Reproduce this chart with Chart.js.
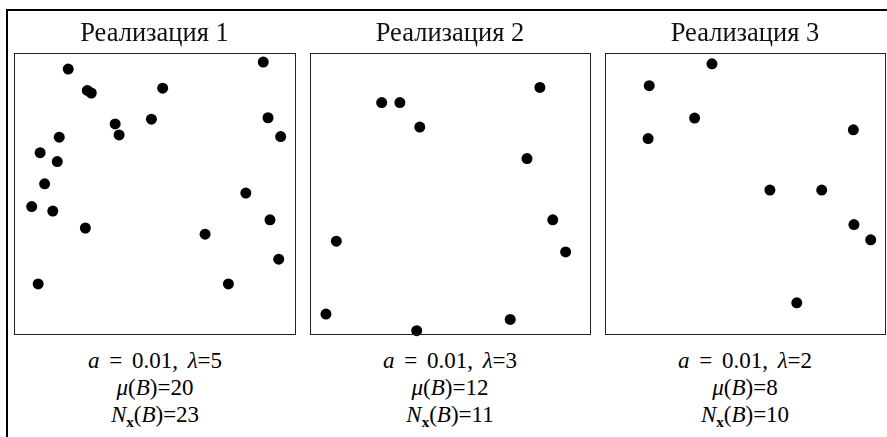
<!DOCTYPE html>
<html>
<head>
<meta charset="utf-8">
<script src="https://cdn.jsdelivr.net/npm/chart.js@4.4.1/dist/chart.umd.min.js"></script>
<style>
  html, body { margin: 0; padding: 0; background: #fff; }
  body { width: 887px; height: 437px; position: relative; overflow: hidden; }
  #frame {
    position: absolute; left: 6px; top: 9px; right: -10px; bottom: -10px;
    border-left: 2px solid #000; border-top: 2px solid #000;
  }
  .panel { position: absolute; top: 0; height: 344px; }
  .caption {
    position: absolute; top: 347px; width: 300px; text-align: center;
    font-family: "Times New Roman", "Liberation Serif", serif;
    font-size: 23px; line-height: 27px; color: #000;
  }
  .caption .l1 { word-spacing: 4px; }
  .caption sub { font-size: 15px; font-weight: bold; font-style: normal; vertical-align: -5px; line-height: 0; }
</style>
</head>
<body>
<div id="frame"></div>
<div class="panel" style="left:4px;width:301px"><canvas id="chart1"></canvas></div>
<div class="panel" style="left:300px;width:300px"><canvas id="chart2"></canvas></div>
<div class="panel" style="left:595px;width:300px"><canvas id="chart3"></canvas></div>
<div class="caption" id="cap1" style="left:5px"></div>
<div class="caption" id="cap2" style="left:300px"></div>
<div class="caption" id="cap3" style="left:595px"></div>

<script>
// реализации точечного процесса (координаты в долях квадрата, 0..100)
const titles = ['Реализация 1', 'Реализация 2', 'Реализация 3'];

const x1 = [19.3, 88.7, 26.1, 27.5, 52.9, 36.0, 37.4, 48.9, 90.4, 94.9, 16.1, 9.3,
            15.4, 10.9, 6.3, 13.8, 25.4, 82.5, 91.1, 68.0, 94.2, 8.6, 76.3];
const y1 = [94.2, 96.7, 86.6, 85.7, 87.4, 74.7, 70.8, 76.4, 76.9, 70.2, 70.0, 64.5,
            61.3, 53.4, 45.3, 43.7, 37.7, 50.1, 40.6, 35.5, 26.6, 17.8, 17.8];

const x2 = [82.1, 25.6, 32.1, 39.2, 77.5, 86.7, 91.3, 9.4, 5.7, 71.5, 38.1];
const y2 = [87.7, 82.3, 82.3, 73.6, 62.4, 40.6, 29.2, 33.0, 7.1, 5.2, 1.2];

const x3 = [38.2, 15.8, 32.0, 15.4, 88.7, 58.9, 77.4, 88.9, 94.9, 68.5];
const y3 = [96.1, 88.3, 76.8, 69.5, 72.6, 51.2, 51.2, 38.9, 33.5, 11.1];

const aValues = ['0.01', '0.01', '0.01'];
const lambdaValues = [5, 3, 2];
const muValues = [20, 12, 8];
const nValues = [23, 11, 10];

const serif = '"Times New Roman", "Liberation Serif", serif';

// рамка вокруг области графика
const boxPlugin = {
  id: 'box',
  afterDatasetsDraw(chart) {
    const a = chart.chartArea;
    const c = chart.ctx;
    c.save();
    c.strokeStyle = '#222';
    c.lineWidth = 1;
    c.strokeRect(Math.round(a.left) + 0.5, Math.round(a.top) + 0.5,
                 Math.round(a.right - a.left), Math.round(a.bottom - a.top));
    c.restore();
  }
};

function makeChart(id, xs, ys, title) {
  const pts = xs.map((x, i) => ({ x: x, y: ys[i] }));
  new Chart(document.getElementById(id), {
    type: 'scatter',
    data: {
      datasets: [{
        data: pts,
        backgroundColor: '#000',
        borderWidth: 0,
        pointRadius: 5.5,
        pointHoverRadius: 5.5,
        clip: false
      }]
    },
    options: {
      responsive: true,
      maintainAspectRatio: false,
      animation: false,
      events: [],
      layout: { padding: { left: 10, right: 10, top: 0, bottom: 10 } },
      plugins: {
        legend: { display: false },
        tooltip: { enabled: false },
        title: {
          display: true,
          text: title,
          color: '#111',
          font: { family: serif, size: 26.5, weight: 'normal' },
          padding: { top: 18, bottom: 3 }
        }
      },
      scales: {
        x: { type: 'linear', min: 0, max: 100, display: false },
        y: { type: 'linear', min: 0, max: 100, display: false }
      }
    },
    plugins: [boxPlugin]
  });
}

makeChart('chart1', x1, y1, titles[0]);
makeChart('chart2', x2, y2, titles[1]);
makeChart('chart3', x3, y3, titles[2]);

// подписи под графиками
for (let i = 0; i < 3; i++) {
  document.getElementById('cap' + (i + 1)).innerHTML =
    '<span class="l1"><i>a</i> = ' + aValues[i] + ', <i>λ</i>=' + lambdaValues[i] + '</span><br>' +
    '<i>μ</i>(<i>B</i>)=' + muValues[i] + '<br>' +
    '<i>N</i><sub>x</sub>(<i>B</i>)=' + nValues[i];
}
</script>
</body>
</html>
